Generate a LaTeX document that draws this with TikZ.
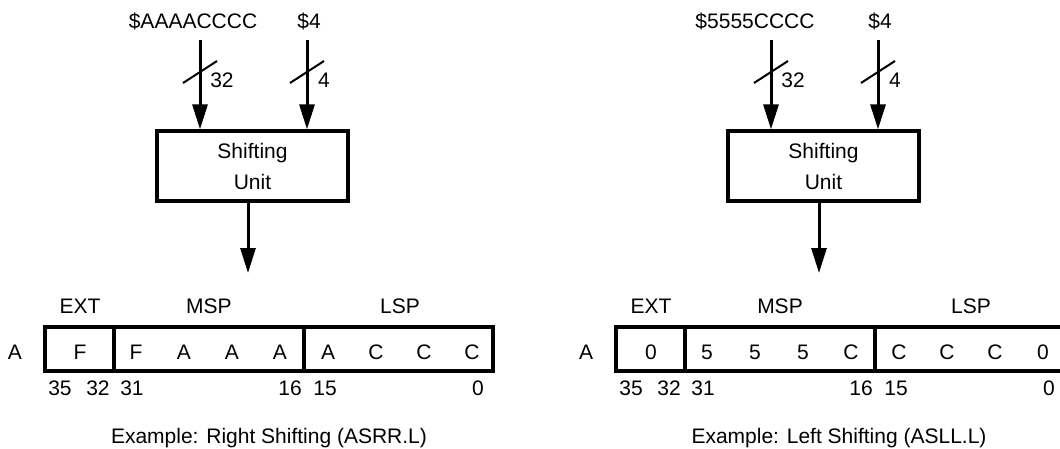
\documentclass[tikz,border=0pt]{standalone}
\usepackage{fontspec}
\setmainfont{Liberation Sans}
\usetikzlibrary{arrows.meta,calc}
\newcommand\shiftexample[6]{%
  % #1 name prefix, #2 input text, #3 input text x, #4 cell values, #5 caption, #6 caption x
  \node[unitbox] (#1box) at (252.5,166) {Shifting\\Unit};
  \coordinate (#1in1) at (200,40);
  \coordinate (#1in2) at (307,40);
  \node[lbl] (#1tin1) at (#3,28) {#2};
  \node[lbl] (#1tin2) at (309,28) {\$4};
  \draw[bus] (#1in1) -- (#1in1 |- #1box.north);
  \draw[bus] (#1in2) -- (#1in2 |- #1box.north);
  \draw[slash] ($(#1in1)+(-17,43)$) -- ($(#1in1)+(17,21)$);
  \draw[slash] ($(#1in2)+(-17,43)$) -- ($(#1in2)+(17,21)$);
  \node[lbl] (#1w1) at (222,87) {32};
  \node[lbl] (#1w2) at (324,87) {4};
  \coordinate (#1out) at (248,273);
  \draw[bus] (#1box.south -| #1out) -- (#1out);
  \node[cell, minimum width=69pt] (#1ext) at (79.5,349) {};
  \node[cell, minimum width=190pt] (#1msp) at (209,349) {};
  \node[cell, minimum width=189pt] (#1lsp) at (398.5,349) {};
  \node[lbl] (#1hext) at (80,313) {EXT};
  \node[lbl] (#1hmsp) at (209,313) {MSP};
  \node[lbl] (#1hlsp) at (400,313) {LSP};
  \node[lbl] (#1reg) at (15,359) {A};
  \foreach \xx/\vv [count=\ii] in {#4}
    \node[lbl] (#1v\ii) at (\xx,359) {\vv};
  \foreach \xx/\vv [count=\ii] in {60/35,98/32,132/31,290/16,325/15,478/0}
    \node[lbl] (#1b\ii) at (\xx,395) {\vv};
  \node[lbl] (#1cap) at (#6,443) {#5};
}
\begin{document}
\begin{tikzpicture}[x=1pt,y=-1pt,
  font=\fontsize{21}{25}\selectfont,
  unitbox/.style={draw, line width=3.3pt, minimum width=191pt, minimum height=70pt,
    inner sep=0pt, align=center, font=\fontsize{21}{31}\selectfont},
  cell/.style={draw, line width=3.3pt, minimum height=44pt, inner sep=0pt},
  lbl/.style={anchor=base, inner sep=0pt},
  bus/.style={line width=3pt, -{Triangle[length=25pt,width=15pt]}},
  slash/.style={line width=2pt}]
\path[use as bounding box] (0,0) rectangle (1060,448);
\clip (0,0) rectangle (1060,448);
\shiftexample{L}{\$AAAACCCC}{193}{80/F,136/F,184/A,232/A,280/A,328/A,376/C,424/C,472/C}{Example: Right Shifting (ASRR.L)}{269}
\begin{scope}[xshift=571pt]
\shiftexample{R}{\$5555CCCC}{184}{80/0,136/5,184/5,232/5,280/C,328/C,376/C,424/C,472/0}{Example: Left Shifting (ASLL.L)}{268}
\end{scope}
\end{tikzpicture}
\end{document}
